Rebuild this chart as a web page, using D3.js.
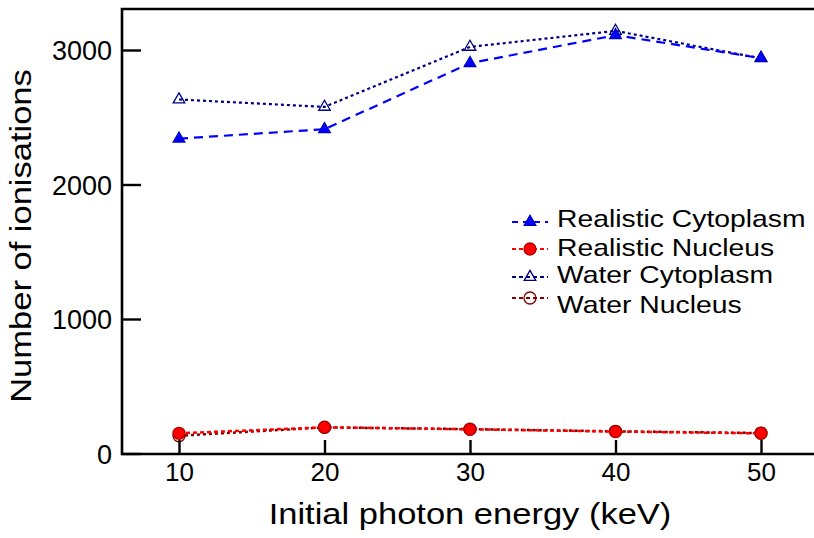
<!DOCTYPE html>
<html>
<head>
<meta charset="utf-8">
<script src="https://cdn.jsdelivr.net/npm/d3@7"></script>
<style>
  body { margin: 0; background: #fff; }
  svg { display: block; font-family: "Liberation Sans", Arial, Helvetica, sans-serif; }
</style>
</head>
<body>
<div id="chart"></div>
<script>
const energies = [10, 20, 30, 40, 50];
const realisticCytoplasm = [2341, 2411, 2902, 3110, 2940];
const realisticNucleus = [150, 195, 180, 163, 150];
const waterCytoplasm = [2632, 2577, 3023, 3142, 2938];
const waterNucleus = [132, 194, 181, 165, 152];
const yTicks = [0, 1000, 2000, 3000];
const xTicks = [10, 20, 30, 40, 50];

const W = 814, H = 538;
const frame = {left: 122, top: 9, right: 830, bottom: 454};
const stretch = 1.19; // text in the reference is drawn wider than plain Helvetica

const svg = d3.select("#chart").append("svg").attr("width", W).attr("height", H);

const x = d3.scaleLinear().domain([10, 50]).range([179, 761]);
const y = d3.scaleLinear().domain([0, 3000]).range([453.5, 50]);

// series, drawn water first so the realistic markers sit on top
const series = [
    {name: "Water Cytoplasm", values: waterCytoplasm, color: "#000080", dash: "3,3", width: 2.2,
     shape: "tri", fill: "none", stroke: "#000080"},
    {name: "Water Nucleus", values: waterNucleus, color: "#800000", dash: "3,3", width: 2.5,
     shape: "circle", fill: "none", stroke: "#800000"},
    {name: "Realistic Cytoplasm", values: realisticCytoplasm, color: "#0000ff", dash: "9,6", width: 2.2,
     shape: "tri", fill: "#0000ff", stroke: "#0000c0"},
    {name: "Realistic Nucleus", values: realisticNucleus, color: "#ff0000", dash: "4,3", width: 2.5,
     shape: "circle", fill: "#ff0000", stroke: "#b00000"}
];

function drawFrame() {
    const g = svg.append("g").attr("stroke", "#000").attr("stroke-width", 2.6).attr("fill", "none");
    g.append("path").attr("d", `M${frame.right},${frame.top}H${frame.left}V${frame.bottom}H${frame.right}`);
}

function drawAxes() {
    const xa = svg.append("g").attr("transform", `translate(0,${frame.bottom})`)
        .call(d3.axisBottom(x).tickValues(xTicks).tickSize(-14).tickSizeOuter(0).tickPadding(6));
    xa.select(".domain").remove();
    xa.selectAll("line").attr("stroke-width", 2.4);
    xa.selectAll("text").attr("font-size", 26).attr("fill", "#000")
        .attr("font-family", "Liberation Sans, Arial, sans-serif")
        .attr("dy", null).attr("y", 27);

    const ya = svg.append("g").attr("transform", `translate(${frame.left},0)`)
        .call(d3.axisLeft(y).tickValues(yTicks).tickSize(-19).tickSizeOuter(0).tickPadding(10).tickFormat(d3.format("d")));
    ya.select(".domain").remove();
    ya.selectAll("line").attr("stroke-width", 2.4);
    ya.selectAll("text").attr("font-size", 27).attr("fill", "#000")
        .attr("font-family", "Liberation Sans, Arial, sans-serif")
        .attr("x", -10).attr("dy", "0.36em");

    svg.append("text")
        .attr("transform", `translate(470,524) scale(${stretch},1)`)
        .attr("text-anchor", "middle").attr("font-size", 29)
        .text("Initial photon energy (keV)");
    svg.append("text")
        .attr("transform", `translate(31,236) rotate(-90) scale(${stretch},1)`)
        .attr("text-anchor", "middle").attr("font-size", 29)
        .text("Number of ionisations");
}

function marker(sel, s) {
    if (s.shape === "tri") {
        sel.append("path").attr("d", d3.symbol(d3.symbolTriangle, 58)())
            .attr("fill", s.fill).attr("stroke", s.stroke).attr("stroke-width", 1.3);
    } else {
        sel.append("circle").attr("r", 6)
            .attr("fill", s.fill).attr("stroke", s.stroke).attr("stroke-width", 1.3);
    }
}

function drawSeries() {
    const line = d3.line().x((d, i) => x(energies[i])).y(d => y(d));
    series.forEach(s => {
        svg.append("path").datum(s.values).attr("d", line)
            .attr("fill", "none").attr("stroke", s.color)
            .attr("stroke-width", s.width).attr("stroke-dasharray", s.dash);
        svg.append("g").selectAll("g").data(s.values).join("g")
            .attr("transform", (d, i) => `translate(${x(energies[i])},${y(d)})`)
            .each(function () { marker(d3.select(this), s); });
    });
}

function drawLegend() {
    const order = ["Realistic Cytoplasm", "Realistic Nucleus", "Water Cytoplasm", "Water Nucleus"];
    const markerY = [222, 249, 277, 298];
    const textY = [227, 256, 283, 313];
    order.forEach((name, i) => {
        const s = series.find(d => d.name === name);
        const g = svg.append("g");
        g.append("line").attr("x1", 512).attr("x2", 548).attr("y1", markerY[i]).attr("y2", markerY[i])
            .attr("stroke", s.color).attr("stroke-width", 2).attr("stroke-dasharray", s.dash === "9,6" ? "6,5" : "4,3");
        marker(g.append("g").attr("transform", `translate(530,${markerY[i]})`), s);
        g.append("text")
            .attr("transform", `translate(557,${textY[i]}) scale(1.18,1)`)
            .attr("font-size", 24).text(name);
    });
}

drawSeries();
drawFrame();
drawAxes();
drawLegend();
</script>
</body>
</html>
